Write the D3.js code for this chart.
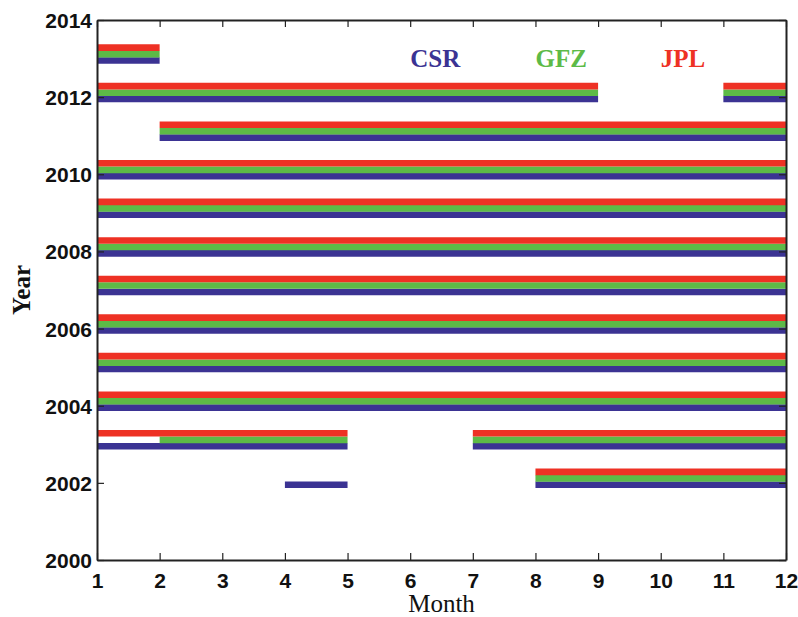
<!DOCTYPE html>
<html>
<head>
<meta charset="utf-8">
<script src="https://cdn.jsdelivr.net/npm/d3@7"></script>
<style>
  body { margin: 0; background: #fff; }
</style>
</head>
<body>
<svg id="chart" width="798" height="617"></svg>
<script>
var width = 798,
    height = 617,
    margin = {top: 20, right: 12, bottom: 57, left: 97};

var centers = ["CSR", "GFZ", "JPL"];
var centerColors = ["#3b3393", "#5dba47", "#ee3124"];
var rowOffset = [-0.05, 0.115, 0.285]; // year offset of each centre's line

// available months per year: [year, start month, end month]
var csrSpans = [
  [2002, 4, 5], [2002, 8, 12],
  [2003, 1, 5], [2003, 7, 12],
  [2004, 1, 12], [2005, 1, 12], [2006, 1, 12], [2007, 1, 12],
  [2008, 1, 12], [2009, 1, 12], [2010, 1, 12],
  [2011, 2, 12],
  [2012, 1, 9], [2012, 11, 12],
  [2013, 1, 2]
];
var gfzSpans = [
  [2002, 8, 12],
  [2003, 2, 5], [2003, 7, 12],
  [2004, 1, 12], [2005, 1, 12], [2006, 1, 12], [2007, 1, 12],
  [2008, 1, 12], [2009, 1, 12], [2010, 1, 12],
  [2011, 2, 12],
  [2012, 1, 9], [2012, 11, 12],
  [2013, 1, 2]
];
var jplSpans = [
  [2002, 8, 12],
  [2003, 1, 5], [2003, 7, 12],
  [2004, 1, 12], [2005, 1, 12], [2006, 1, 12], [2007, 1, 12],
  [2008, 1, 12], [2009, 1, 12], [2010, 1, 12],
  [2011, 2, 12],
  [2012, 1, 9], [2012, 11, 12],
  [2013, 1, 2]
];
var allSpans = [csrSpans, gfzSpans, jplSpans];

var monthTicks = [1, 2, 3, 4, 5, 6, 7, 8, 9, 10, 11, 12];
var yearTicks = [2000, 2002, 2004, 2006, 2008, 2010, 2012, 2014];
var legendMonth = [6, 8, 10];
var legendYear = 12.77;

var svg = d3.select("#chart");

var x = d3.scaleLinear().domain([1, 12]).range([margin.left, width - margin.right]);
var y = d3.scaleLinear().domain([2000, 2014]).range([height - margin.bottom, margin.top]);

// bars
allSpans.forEach(function(spans, i) {
  svg.append("g").selectAll("line")
    .data(spans)
    .enter().append("line")
    .attr("x1", function(d) { return x(d[1]); })
    .attr("x2", function(d) { return x(d[2]); })
    .attr("y1", function(d) { return y(d[0] + rowOffset[i]); })
    .attr("y2", function(d) { return y(d[0] + rowOffset[i]); })
    .attr("stroke", centerColors[i])
    .attr("stroke-width", 6.6);
});

// axes (MATLAB style box, ticks pointing in)
var tickFont = "bold 21px 'Liberation Sans', Arial, sans-serif";

var xAxis = svg.append("g")
  .attr("transform", "translate(0," + y(2000) + ")")
  .call(d3.axisBottom(x).tickValues(monthTicks).tickSizeInner(-7).tickSizeOuter(0).tickPadding(11));
var xTop = svg.append("g")
  .attr("transform", "translate(0," + y(2014) + ")")
  .call(d3.axisTop(x).tickValues(monthTicks).tickSizeInner(-7).tickSizeOuter(0).tickFormat(""));
var yAxis = svg.append("g")
  .attr("transform", "translate(" + x(1) + ",0)")
  .call(d3.axisLeft(y).tickValues(yearTicks).tickSizeInner(-7).tickSizeOuter(0).tickPadding(5).tickFormat(d3.format("d")));
var yRight = svg.append("g")
  .attr("transform", "translate(" + x(12) + ",0)")
  .call(d3.axisRight(y).tickValues(yearTicks).tickSizeInner(-7).tickSizeOuter(0).tickFormat(""));

[xAxis, xTop, yAxis, yRight].forEach(function(g) {
  g.select(".domain").attr("stroke", "#222").attr("stroke-width", 2);
  g.selectAll(".tick line").attr("stroke", "#222").attr("stroke-width", 1.2);
  g.selectAll("text").style("font", tickFont).attr("fill", "#111");
});
xAxis.selectAll("text").attr("dy", "0.8em");
yAxis.selectAll("text").attr("dy", "0.36em");

// legend labels
svg.append("g").selectAll("text")
  .data(centers)
  .enter().append("text")
  .attr("x", function(d, i) { return x(legendMonth[i]); })
  .attr("y", y(2000 + legendYear))
  .attr("fill", function(d, i) { return centerColors[i]; })
  .style("font", "bold 25px 'Liberation Serif', 'Times New Roman', serif")
  .text(function(d) { return d; });

// axis titles
svg.append("text")
  .attr("x", (x(1) + x(12)) / 2)
  .attr("y", 612)
  .attr("text-anchor", "middle")
  .style("font", "25px 'Liberation Serif', 'Times New Roman', serif")
  .attr("fill", "#111")
  .text("Month");

svg.append("text")
  .attr("transform", "translate(30," + (y(2007) ) + ") rotate(-90)")
  .attr("text-anchor", "middle")
  .style("font", "bold 25px 'Liberation Serif', 'Times New Roman', serif")
  .attr("fill", "#111")
  .text("Year");
</script>
</body>
</html>
